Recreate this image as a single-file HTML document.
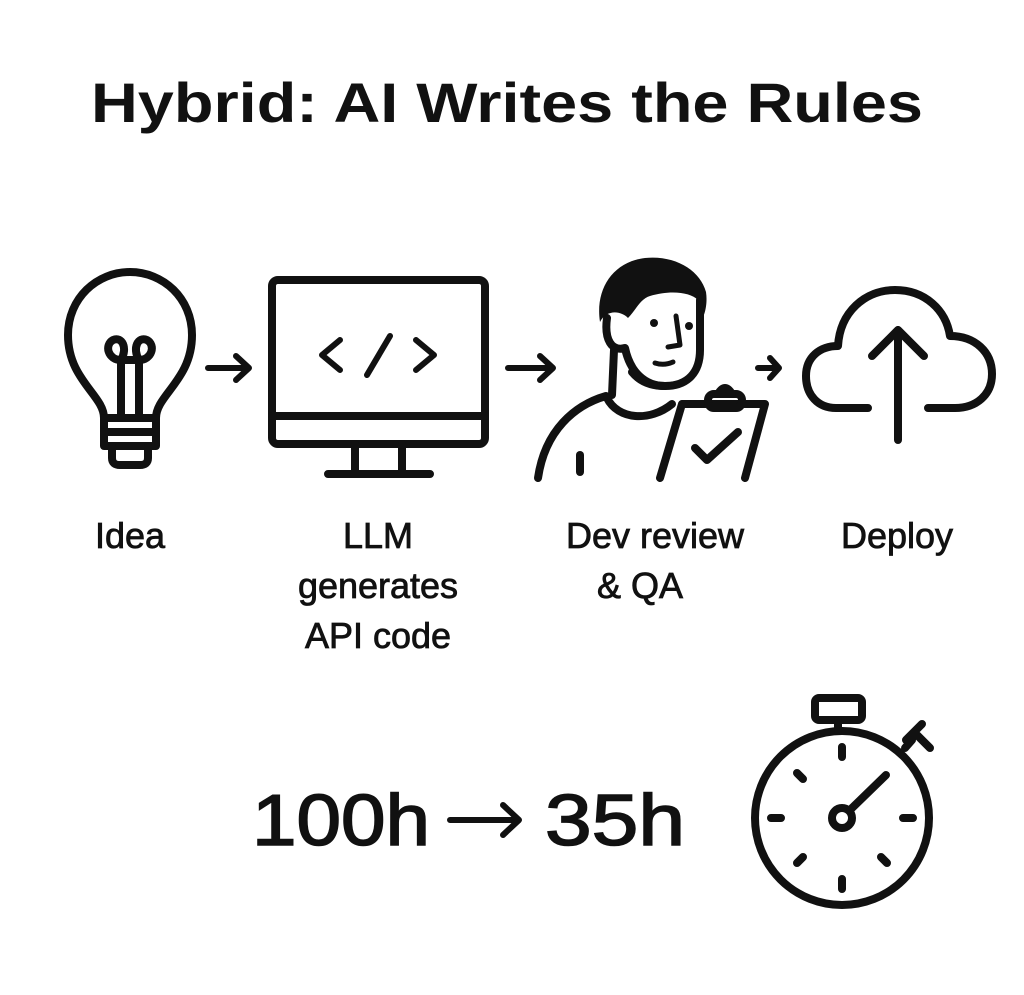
<!DOCTYPE html>
<html><head><meta charset="utf-8"><style>
html,body{margin:0;padding:0;background:#fff;}
svg{display:block;}
text{font-family:"Liberation Sans",sans-serif;fill:#111;}
.l{stroke:#111;stroke-width:0.8;}
.b{stroke:#111;stroke-width:1.6;}
</style></head><body>
<svg width="1024" height="995" viewBox="0 0 1024 995" xmlns="http://www.w3.org/2000/svg">
<rect width="1024" height="995" fill="#fff"/>
<text x="507" y="122" font-size="56" font-weight="bold" text-anchor="middle" textLength="832" lengthAdjust="spacingAndGlyphs">Hybrid: AI Writes the Rules</text>

<g fill="none" stroke="#111" stroke-width="8" stroke-linecap="round" stroke-linejoin="round">
<path d="M104 418 C104 395 68 380 68 335 C68 298 97 272 130 272 C163 272 192 298 192 335 C192 380 156 395 156 418 Z"/>
<rect x="104" y="418" width="52" height="14"/>
<rect x="104" y="432" width="52" height="14"/>
<path d="M112 446 L112 458 Q112 465 120 465 L140 465 Q148 465 148 458 L148 446"/>
<path d="M121 418 V360 M139 418 V360"/>
<path d="M121 360 C108 360 104 345 113 340 C122 336 128 348 121 360 Z"/>
<path d="M139 360 C152 360 156 345 147 340 C138 336 132 348 139 360 Z"/>
<path d="M121 360 H139"/>
<path d="M208 368 H248 M236 356 L249 368 L236 380" stroke-width="6"/>
<rect x="272" y="280" width="213" height="164" rx="6"/>
<path d="M272 416 H485"/>
<path d="M355 444 V474 M402 444 V474 M328 474 H430"/>
<path d="M340 340 L322 355 L340 370 M367 375 L390 336 M416 340 L434 355 L416 370" stroke-width="6"/>
<path d="M508 368 H552 M540 356 L553 368 L540 380" stroke-width="6"/>
<path d="M607 318 C604 340 612 352 625 348 L625 348 C630 372 645 386 665 386 C688 386 700 372 700 350 L700 300"/>
<path d="M632 372 C640 382 652 386 665 386"/>
<path d="M614 350 L612 395"/>
<path d="M606 396 C575 405 545 430 538 478"/>
<path d="M607 398 C618 420 650 422 672 404"/>
<path d="M580 455 V472"/>
<path d="M682 404 H765 L745 478 M682 404 L660 478"/>
<rect x="708" y="394" width="34" height="14" rx="6"/>
<path d="M718 394 Q725 382 732 394"/>
<path d="M695 448 L707 460 L738 432"/>
<path d="M655 363 Q664 366 673 362" stroke-width="5"/>
<path d="M676 316 L680 345 L668 347" stroke-width="5"/>
<path d="M758 368 H778 M770 358 L779 368 L770 378" stroke-width="6"/>
<path d="M868 408 H836 C818 408 806 395 806 376 C806 357 820 346 838 346 C840 312 865 290 895 290 C925 290 946 310 950 336 C975 336 992 352 992 374 C992 395 976 408 955 408 H928"/>
<path d="M898 440 V330 M872 356 L898 330 L924 356"/>
<circle cx="842" cy="818" r="87"/>
<rect x="815" y="698" width="47" height="22" rx="4"/>
<path d="M838 720 V731"/>
<path d="M905 748 L912 740 M906 740 L922 724 M914 732 L930 748" />
<circle cx="842" cy="818" r="10"/>
<path d="M850 810 L886 775"/>
<path d="M842 747 V757 M842 879 V889 M771 818 H781 M903 818 H913 M797 773 L803 779 M797 863 L803 857 M887 863 L881 857"/>
<path d="M450 820 H518 M503 805 L519 820 L503 835" stroke-width="6"/>
</g>
<path d="M600 322 C595 290 612 262 645 258 C675 255 700 270 706 292 C708 305 704 318 700 322 L698 300 C690 292 670 290 650 296 C640 299 636 310 628 318 C620 310 606 310 600 322 Z" fill="#111"/>
<circle cx="654" cy="323" r="4" fill="#111"/>
<circle cx="689" cy="326" r="4" fill="#111"/>

<text class="l" x="130" y="548" font-size="36" text-anchor="middle">Idea</text>
<text class="l" x="378" y="548" font-size="36" text-anchor="middle">LLM</text>
<text class="l" x="378" y="598" font-size="36" text-anchor="middle">generates</text>
<text class="l" x="378" y="648" font-size="36" text-anchor="middle">API code</text>
<text class="l" x="655" y="548" font-size="36" text-anchor="middle">Dev review</text>
<text class="l" x="640" y="598" font-size="36" text-anchor="middle">&amp; QA</text>
<text class="l" x="897" y="548" font-size="36" text-anchor="middle">Deploy</text>
<text class="b" x="252" y="845" font-size="72" textLength="178" lengthAdjust="spacingAndGlyphs">100h</text>
<text class="b" x="545" y="845" font-size="72" textLength="140" lengthAdjust="spacingAndGlyphs">35h</text>
</svg>
</body></html>
